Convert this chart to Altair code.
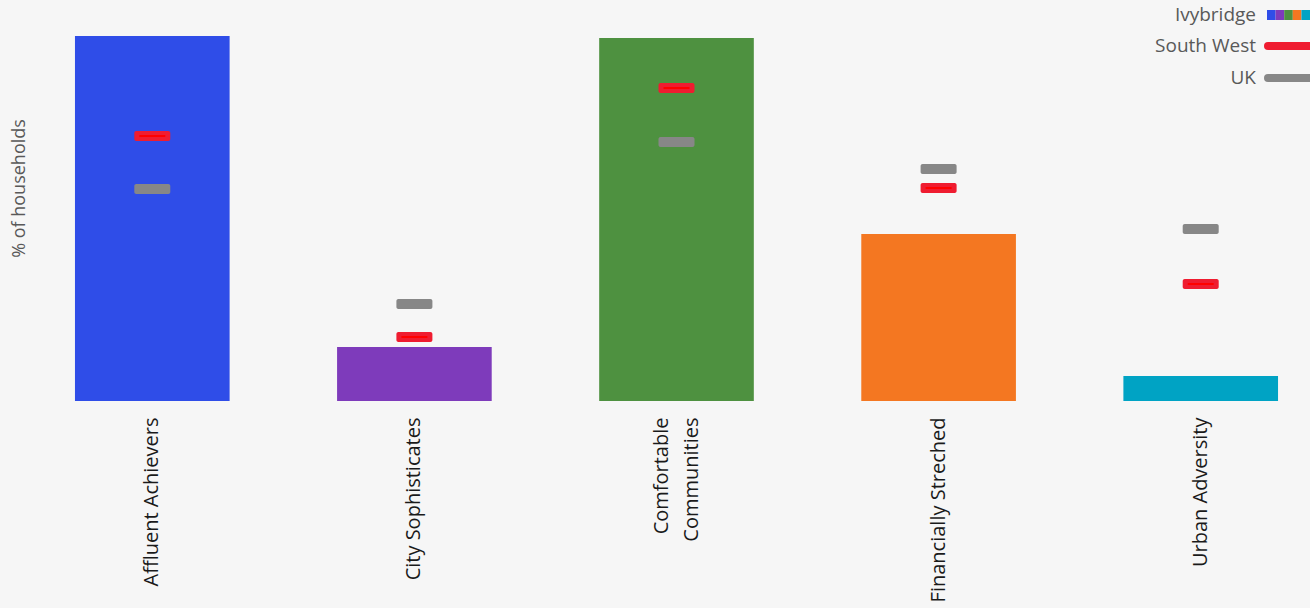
import altair as alt
import pandas as pd

# Household classification groups and shares (% of households)
groups = ["Affluent Achievers", "City Sophisticates", "Comfortable Communities",
          "Financially Streched", "Urban Adversity"]
ivybridge = [36.5, 5.4, 36.3, 16.7, 2.5]
south_west = [26.5, 6.4, 31.3, 21.3, 11.7]
uk = [21.2, 9.7, 25.9, 23.2, 17.2]
bar_colors = ["#2f4de8", "#7e3bbb", "#4e9140", "#f47721", "#00a3c4"]

legend_names = ["Ivybridge", "South West", "UK"]
legend_y = [14, 45, 77]

RED = "#ef1c30"
GREY = "#878787"

df = pd.DataFrame({"group": groups, "ivybridge": ivybridge,
                   "south_west": south_west, "uk": uk})

two_line = "datum.label == 'Comfortable Communities'"
x = alt.X("group:N", sort=groups, title=None,
          scale=alt.Scale(paddingInner=0.41, paddingOuter=0.08),
          axis=alt.Axis(labelAngle=270, labelAlign="right", labelBaseline="middle",
                        labelPadding=16, labelFontSize=20, labelFont="Open Sans",
                        labelColor="#1a1a1a", ticks=False, domain=False,
                        labelLineHeight=30, labelLimit=400,
                        labelOffset={"condition": {"test": two_line, "value": -15}, "value": 0},
                        labelExpr=two_line + " ? ['Comfortable', 'Communities'] : datum.label"))
yscale = alt.Scale(domain=[0, 40], nice=False)
yaxis = alt.Axis(title="% of households", labels=False, ticks=False, domain=False,
                 grid=False, titleFont="Open Sans", titleFontSize=18,
                 titleFontWeight="normal", titleColor="#595959", titleAngle=270,
                 titleX=-35, titleY=187, titleAlign="center", titleBaseline="middle")

base = alt.Chart(df)

bars = base.mark_bar().encode(
    x=x,
    y=alt.Y("ivybridge:Q", scale=yscale, axis=yaxis),
    color=alt.Color("group:N", scale=alt.Scale(domain=groups, range=bar_colors), legend=None),
)

uk_marks = base.mark_tick(color=GREY, thickness=10, size=36, cornerRadius=2, opacity=1).encode(
    x=alt.X("group:N", sort=groups), y=alt.Y("uk:Q", scale=yscale))
sw_marks = base.mark_tick(color=RED, thickness=10, size=36, cornerRadius=2, opacity=1).encode(
    x=alt.X("group:N", sort=groups), y=alt.Y("south_west:Q", scale=yscale))
sw_inner = base.mark_tick(color="#ff0000", thickness=2, size=26, opacity=1).encode(
    x=alt.X("group:N", sort=groups), y=alt.Y("south_west:Q", scale=yscale))

layers = [bars, uk_marks, sw_marks, sw_inner]

# Custom legend in the top-right corner
one = pd.DataFrame({"k": [0]})
for name, ly in zip(legend_names, legend_y):
    layers.append(alt.Chart(one).mark_text(
        text=name, align="right", baseline="middle", font="Open Sans",
        fontSize=19, color="#595959").encode(x=alt.value(1202), y=alt.value(ly)))

swatch_w = 8.6
for i, c in enumerate(bar_colors):
    layers.append(alt.Chart(one).mark_rect(color=c).encode(
        x=alt.value(1213 + i * swatch_w), x2=alt.value(1213 + (i + 1) * swatch_w),
        y=alt.value(legend_y[0] - 5), y2=alt.value(legend_y[0] + 5)))
for name, ly, c in zip(legend_names[1:], legend_y[1:], [RED, GREY]):
    layers.append(alt.Chart(one).mark_rule(color=c, strokeWidth=8, strokeCap="round").encode(
        x=alt.value(1214), x2=alt.value(1270), y=alt.value(ly)))

chart = alt.layer(*layers).properties(
    width=1245, height=400,
    padding={"left": 54, "top": 1, "right": 11, "bottom": 207},
    autosize=alt.AutoSizeParams(type="none"),
    background="#f6f6f6",
).configure_view(stroke=None)

chart.save("out.html", embed_options={"renderer": "svg", "actions": False})
